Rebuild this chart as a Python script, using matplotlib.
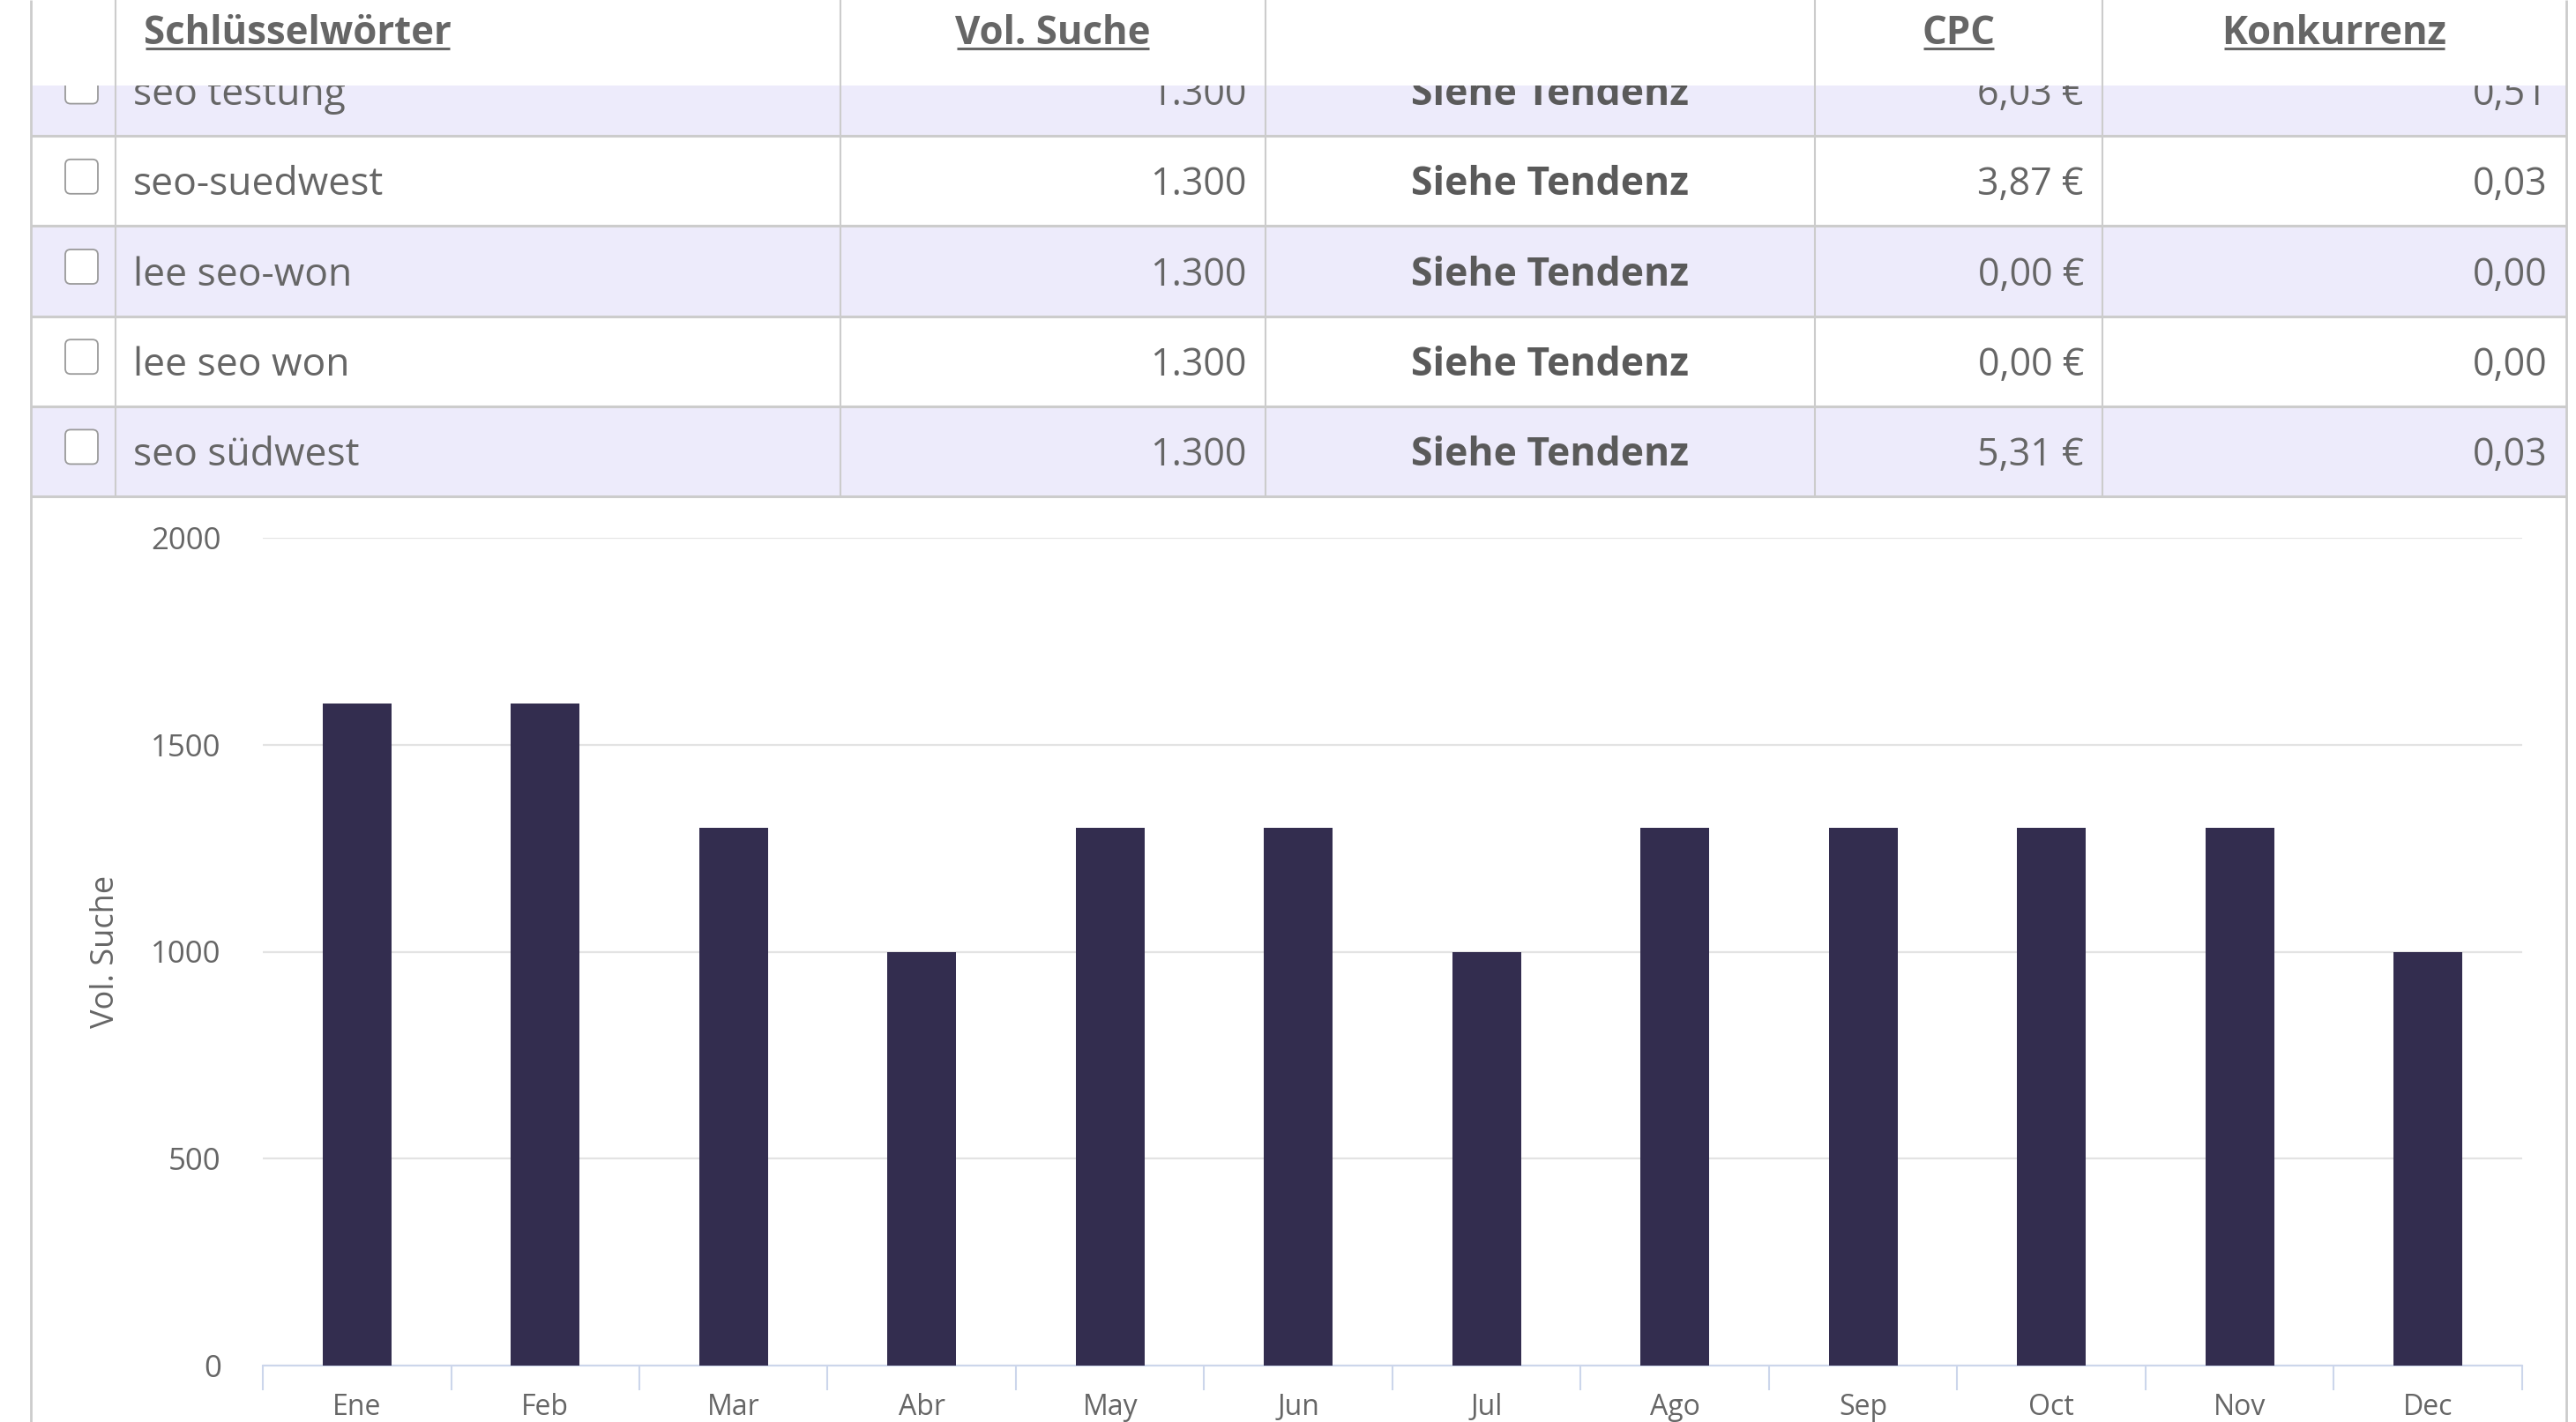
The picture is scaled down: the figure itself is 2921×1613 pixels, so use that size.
import matplotlib.pyplot as plt
from matplotlib.patches import Rectangle, FancyBboxPatch
import numpy as np

plt.rcParams['font.family'] = ['Open Sans', 'DejaVu Sans']

# table data
headers = ['Schlüsselwörter', 'Vol. Suche', '', 'CPC', 'Konkurrenz']
keywords = ['seo testung', 'seo-suedwest', 'lee seo-won', 'lee seo won', 'seo südwest']
volumes = [1300, 1300, 1300, 1300, 1300]
tendenz = ['Siehe Tendenz'] * 5
cpc = [6.03, 3.87, 0.00, 0.00, 5.31]
konkurrenz = [0.51, 0.03, 0.00, 0.00, 0.03]

# chart data
months = ['Ene', 'Feb', 'Mar', 'Abr', 'May', 'Jun',
          'Jul', 'Ago', 'Sep', 'Oct', 'Nov', 'Dec']
monthly = [1600, 1600, 1300, 1000, 1300, 1300,
           1000, 1300, 1300, 1300, 1300, 1000]

W, H = 2921, 1613
col_x = [35, 131, 953, 1435, 2058, 2384, 2910]
head_h = 97
row_top = 52
row_h = 102.2
table_bottom = row_top + 5 * row_h
line_c = '#cccccc'
text_c = '#666666'
lavender = '#edebfb'

fig = plt.figure(figsize=(W / 100, H / 100), dpi=100)
bg = fig.add_axes([0, 0, 1, 1])
bg.set_xlim(0, W)
bg.set_ylim(H, 0)
bg.axis('off')

# rows
for i, kw in enumerate(keywords):
    y0 = row_top + i * row_h
    yc = y0 + row_h / 2
    bg.add_patch(Rectangle((col_x[0], y0), col_x[-1] - col_x[0], row_h,
                           fc=lavender if i % 2 == 0 else 'white', ec='none', zorder=1))
    bg.hlines(y0 + row_h, col_x[0], col_x[-1], color=line_c, lw=2.2, zorder=2)
    bg.add_patch(FancyBboxPatch((74, yc - 24.5), 37, 39,
                                boxstyle='round,pad=0,rounding_size=6',
                                fc='white', ec='#9a9a9a', lw=1.3, zorder=2))
    base = yc + 16
    bg.text(151, base, kw, ha='left', va='baseline', fontsize=32, color=text_c, zorder=2)
    bg.text(1413, base, f'{volumes[i]:,}'.replace(',', '.'), ha='right', va='baseline',
            fontsize=31, color=text_c, zorder=2)
    bg.text(1757, base, tendenz[i], ha='center', va='baseline', fontsize=32,
            fontweight='bold', color='#5a5a5a', zorder=2)
    bg.text(2363, base, f'{cpc[i]:.2f} €'.replace('.', ','), ha='right', va='baseline',
            fontsize=31, color=text_c, zorder=2)
    bg.text(2889, base, f'{konkurrenz[i]:.2f}'.replace('.', ','), ha='right', va='baseline',
            fontsize=31, color=text_c, zorder=2)

# header
bg.add_patch(Rectangle((col_x[0], 0), col_x[-1] - col_x[0], head_h,
                       fc='white', ec='none', zorder=3))
head_texts = []
for j, h in enumerate(headers):
    if not h:
        continue
    if j == 0:
        t = bg.text(163, 50, h, ha='left', va='baseline', fontsize=31.5,
                    fontweight='bold', color=text_c, zorder=5)
    else:
        cx = (col_x[j + 1] + col_x[j + 2]) / 2
        t = bg.text(cx, 50, h, ha='center', va='baseline', fontsize=31.5,
                    fontweight='bold', color=text_c, zorder=5)
    head_texts.append(t)

# grid lines of the table
bg.vlines(col_x[1:-1], 0, table_bottom, color=line_c, lw=1.5, zorder=4)
bg.vlines([col_x[0], col_x[-1]], 0, H, color=line_c, lw=2, zorder=4)

# chart
ax = fig.add_axes([298 / W, (H - 1549) / H, 2562 / W, 939 / H])
x = np.arange(len(months))
ax.bar(x, monthly, width=0.365, color='#332d4f', zorder=3)
ax.set_xlim(-0.5, 11.5)
ax.set_ylim(0, 2000)
ax.set_yticks([0, 500, 1000, 1500, 2000])
ax.yaxis.grid(True, color='#e3e3e3', lw=1.6)
ax.set_axisbelow(True)
ax.tick_params(axis='y', length=0, pad=34, labelsize=25, labelcolor=text_c)
ax.set_xticks(np.arange(-0.5, 12, 1))
ax.set_xticklabels([])
ax.set_xticks(x, minor=True)
ax.set_xticklabels(months, minor=True)
ax.tick_params(axis='x', which='major', length=20, width=1.5, color='#ccd6eb')
ax.tick_params(axis='x', which='minor', length=0, pad=22, labelsize=23, labelcolor=text_c)
for s in ['top', 'right', 'left']:
    ax.spines[s].set_visible(False)
ax.spines['bottom'].set_color('#ccd6eb')
ax.spines['bottom'].set_linewidth(1.5)
ax.set_ylabel('Vol. Suche', fontsize=26, color=text_c)
ax.yaxis.set_label_coords(-0.0625, 0.5)

# underline header labels
fig.canvas.draw()
inv = bg.transData.inverted()
for t in head_texts:
    bb = t.get_window_extent()
    (x0, _), (x1, _) = inv.transform([(bb.x0, bb.y0), (bb.x1, bb.y1)])
    bg.hlines(55, x0 + 2, x1 - 2, color=text_c, lw=2.2, zorder=5)

fig.savefig('out.png', dpi=100)
